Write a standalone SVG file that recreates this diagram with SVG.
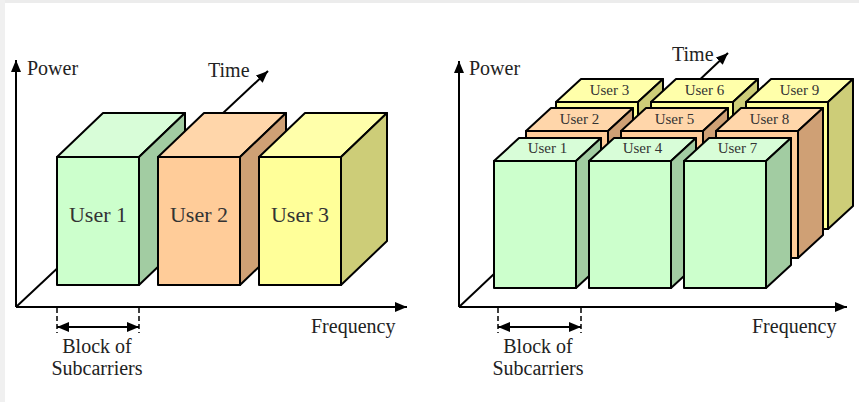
<svg xmlns="http://www.w3.org/2000/svg" width="859" height="402" viewBox="0 0 859 402">
<defs>
<marker id="arr" markerUnits="userSpaceOnUse" markerWidth="12" markerHeight="10" refX="12" refY="5" orient="auto-start-reverse"><path d="M0,0 L12,5 L0,10 z" fill="#000"/></marker>
<style>
.ax{stroke:#000;stroke-width:2;fill:none}
.dash{stroke:#000;stroke-width:1.5;stroke-dasharray:5,3;fill:none}
.f,.t,.s{stroke:#000;stroke-width:2;stroke-linejoin:round}
.g .f{fill:#ccffcc}.g .t{fill:#d8fdd8}.g .s{fill:#a2cca2}
.o .f{fill:#ffcc99}.o .t{fill:#ffd6aa}.o .s{fill:#cfa075}
.y .f{fill:#ffff99}.y .t{fill:#ffffaa}.y .s{fill:#cdcd78}
.lbl{font-size:20px;fill:#222}
.ub{font-size:22px;fill:#333;text-anchor:middle}
.us{font-size:15px;fill:#333;text-anchor:middle}
</style>
</defs>
<rect x="0" y="0" width="859" height="402" fill="#fff"/>
<rect x="0" y="0" width="859" height="3" fill="#ececec"/>
<rect x="0" y="0" width="5" height="402" fill="#f0f0f0"/>

<g id="connectors">
<line class="ax" x1="16" y1="307" x2="16" y2="60" marker-end="url(#arr)"/>
<line class="ax" x1="16" y1="307" x2="407" y2="307" marker-end="url(#arr)"/>
<line class="ax" x1="16" y1="307" x2="268" y2="71" marker-end="url(#arr)"/>
<line class="dash" x1="57" y1="308" x2="57" y2="333"/>
<line class="dash" x1="139" y1="308" x2="139" y2="333"/>
<line class="ax" x1="57" y1="327" x2="139" y2="327" marker-start="url(#arr)" marker-end="url(#arr)"/>
<line class="ax" x1="459" y1="307" x2="459" y2="61" marker-end="url(#arr)"/>
<line class="ax" x1="459" y1="307" x2="847" y2="307" marker-end="url(#arr)"/>
<line class="ax" x1="459" y1="307" x2="728" y2="53" marker-end="url(#arr)"/>
<line class="dash" x1="498" y1="308" x2="498" y2="333"/>
<line class="dash" x1="581" y1="308" x2="581" y2="333"/>
<line class="ax" x1="498" y1="327" x2="581" y2="327" marker-start="url(#arr)" marker-end="url(#arr)"/>
</g>

<g font-family="Liberation Serif, Times New Roman, DejaVu Serif, serif">
<g id="axis-labels">
<text class="lbl" x="27" y="75">Power</text>
<text class="lbl" x="208" y="77">Time</text>
<text class="lbl" x="311" y="333">Frequency</text>
<text class="lbl" x="97" y="353" text-anchor="middle">Block of</text>
<text class="lbl" x="97" y="375" text-anchor="middle">Subcarriers</text>
<text class="lbl" x="469" y="75">Power</text>
<text class="lbl" x="672" y="61">Time</text>
<text class="lbl" x="752" y="333">Frequency</text>
<text class="lbl" x="538" y="353" text-anchor="middle">Block of</text>
<text class="lbl" x="538" y="375" text-anchor="middle">Subcarriers</text>
</g>

<!-- Left panel -->
<g id="L-user1" class="g">
<polygon class="t" points="57,157 103,113 185,113 139,157"/>
<polygon class="s" points="139,157 185,113 185,241 139,285"/>
<rect class="f" x="57" y="157" width="82" height="128"/>
<text class="ub" x="98" y="222">User 1</text>
</g>
<g id="L-user2" class="o">
<polygon class="t" points="158,157 204,113 286,113 240,157"/>
<polygon class="s" points="240,157 286,113 286,241 240,285"/>
<rect class="f" x="158" y="157" width="82" height="128"/>
<text class="ub" x="199" y="222">User 2</text>
</g>
<g id="L-user3" class="y">
<polygon class="t" points="259,157 305,113 387,113 341,157"/>
<polygon class="s" points="341,157 387,113 387,241 341,285"/>
<rect class="f" x="259" y="157" width="82" height="128"/>
<text class="ub" x="300" y="222">User 3</text>
</g>

<!-- Right panel: back row (yellow) -->
<g id="R-user3" class="y">
<polygon class="t" points="556,102 581,79 663,79 638,102"/>
<polygon class="s" points="638,102 663,79 663,206 638,229"/>
<rect class="f" x="556" y="102" width="82" height="127"/>
<text class="us" x="609.5" y="95">User 3</text>
</g>
<g id="R-user6" class="y">
<polygon class="t" points="651,102 676,79 758,79 733,102"/>
<polygon class="s" points="733,102 758,79 758,206 733,229"/>
<rect class="f" x="651" y="102" width="82" height="127"/>
<text class="us" x="704.5" y="95">User 6</text>
</g>
<g id="R-user9" class="y">
<polygon class="t" points="746,102 771,79 853,79 828,102"/>
<polygon class="s" points="828,102 853,79 853,206 828,229"/>
<rect class="f" x="746" y="102" width="82" height="127"/>
<text class="us" x="799.5" y="95">User 9</text>
</g>
<!-- middle row (orange) -->
<g id="R-user2" class="o">
<polygon class="t" points="526,131 551,108 633,108 608,131"/>
<polygon class="s" points="608,131 633,108 633,235 608,258"/>
<rect class="f" x="526" y="131" width="82" height="127"/>
<text class="us" x="579.5" y="124">User 2</text>
</g>
<g id="R-user5" class="o">
<polygon class="t" points="621,131 646,108 728,108 703,131"/>
<polygon class="s" points="703,131 728,108 728,235 703,258"/>
<rect class="f" x="621" y="131" width="82" height="127"/>
<text class="us" x="674.5" y="124">User 5</text>
</g>
<g id="R-user8" class="o">
<polygon class="t" points="716,131 741,108 823,108 798,131"/>
<polygon class="s" points="798,131 823,108 823,235 798,258"/>
<rect class="f" x="716" y="131" width="82" height="127"/>
<text class="us" x="769.5" y="124">User 8</text>
</g>
<!-- front row (green) -->
<g id="R-user1" class="g">
<polygon class="t" points="494,161 519,138 601,138 576,161"/>
<polygon class="s" points="576,161 601,138 601,265 576,288"/>
<rect class="f" x="494" y="161" width="82" height="127"/>
<text class="us" x="547.5" y="153">User 1</text>
</g>
<g id="R-user4" class="g">
<polygon class="t" points="589,161 614,138 696,138 671,161"/>
<polygon class="s" points="671,161 696,138 696,265 671,288"/>
<rect class="f" x="589" y="161" width="82" height="127"/>
<text class="us" x="642.5" y="153">User 4</text>
</g>
<g id="R-user7" class="g">
<polygon class="t" points="684,161 709,138 791,138 766,161"/>
<polygon class="s" points="766,161 791,138 791,265 766,288"/>
<rect class="f" x="684" y="161" width="82" height="127"/>
<text class="us" x="737.5" y="153">User 7</text>
</g>
</g>
</svg>
